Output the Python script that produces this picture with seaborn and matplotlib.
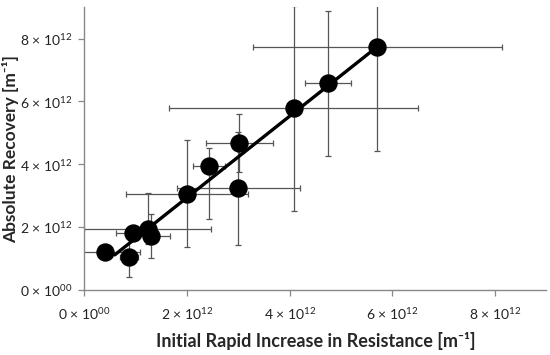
import numpy as np
import pandas as pd
import seaborn as sns
import matplotlib.pyplot as plt

# values in units of 1e12 m^-1
rapid = [0.40, 0.87, 0.95, 1.23, 1.30, 2.00, 2.43, 3.02, 3.00, 4.08, 4.74, 5.71]
recovery = [1.20, 1.06, 1.80, 1.95, 1.72, 3.07, 3.95, 4.68, 3.23, 5.78, 6.57, 7.72]
rapid_err = [0.68, 0.18, 0.34, 1.23, 0.37, 1.19, 0.31, 0.66, 1.20, 2.43, 0.45, 2.42]
recovery_err_lo = [0.15, 0.66, 0.20, 0.50, 0.69, 1.69, 1.69, 0.92, 1.81, 3.26, 2.30, 3.29]
recovery_err_hi = [0.15, 0.66, 0.20, 1.14, 0.69, 1.69, 0.56, 0.92, 1.81, 3.26, 2.30, 3.29]
fit_range = [0.59, 5.71]

tick_vals = [0, 2, 4, 6, 8]
tick_labels = ["0 \u00d7 10$^{00}$", "2 \u00d7 10$^{12}$", "4 \u00d7 10$^{12}$",
               "6 \u00d7 10$^{12}$", "8 \u00d7 10$^{12}$"]

df = pd.DataFrame({"rapid": rapid, "recovery": recovery})

sns.set_style("white")
plt.rcParams["font.family"] = ["Lato", "DejaVu Sans"]
plt.rcParams["mathtext.fontset"] = "custom"
plt.rcParams["mathtext.rm"] = "Lato"

fig = plt.figure(figsize=(5.5, 3.55), dpi=100)
ax = fig.add_axes([0.1536, 0.183, 0.8394, 0.797])

ax.errorbar(df["rapid"], df["recovery"], xerr=rapid_err,
            yerr=[recovery_err_lo, recovery_err_hi], fmt="none",
            ecolor="#555555", elinewidth=0.9, capsize=2, capthick=0.9, zorder=1)

# linear trend line
slope, intercept = np.polyfit(rapid, recovery, 1)
fx = np.array(fit_range)
ax.plot(fx, slope * fx + intercept, color="black", lw=2.4, zorder=2)

sns.scatterplot(data=df, x="rapid", y="recovery", s=150, color="black",
                edgecolor="black", ax=ax, zorder=3)

ax.set_xlim(0, 9)
ax.set_ylim(0, 9)
ax.set_xticks(tick_vals)
ax.set_xticklabels(tick_labels)
ax.set_yticks(tick_vals)
ax.set_yticklabels(tick_labels)
ax.tick_params(axis="both", labelsize=10, color="#888888", length=4, width=0.9,
               direction="out", bottom=True, left=True, labelcolor="#222222")
ax.tick_params(axis="x", pad=7)
ax.tick_params(axis="y", pad=5)

for side in ["top", "right"]:
    ax.spines[side].set_visible(False)
for side in ["left", "bottom"]:
    ax.spines[side].set_color("#888888")
    ax.spines[side].set_linewidth(1.0)

ax.set_xlabel("Initial Rapid Increase in Resistance [m\u207b\u00b9]",
              fontsize=13, fontweight="bold")
ax.set_ylabel("Absolute Recovery [m\u207b\u00b9]",
              fontsize=12.5, fontweight="bold")
ax.xaxis.set_label_coords(0.5, -0.15)
ax.yaxis.set_label_coords(-0.142, 0.5)

fig.savefig("out.png", dpi=100)
